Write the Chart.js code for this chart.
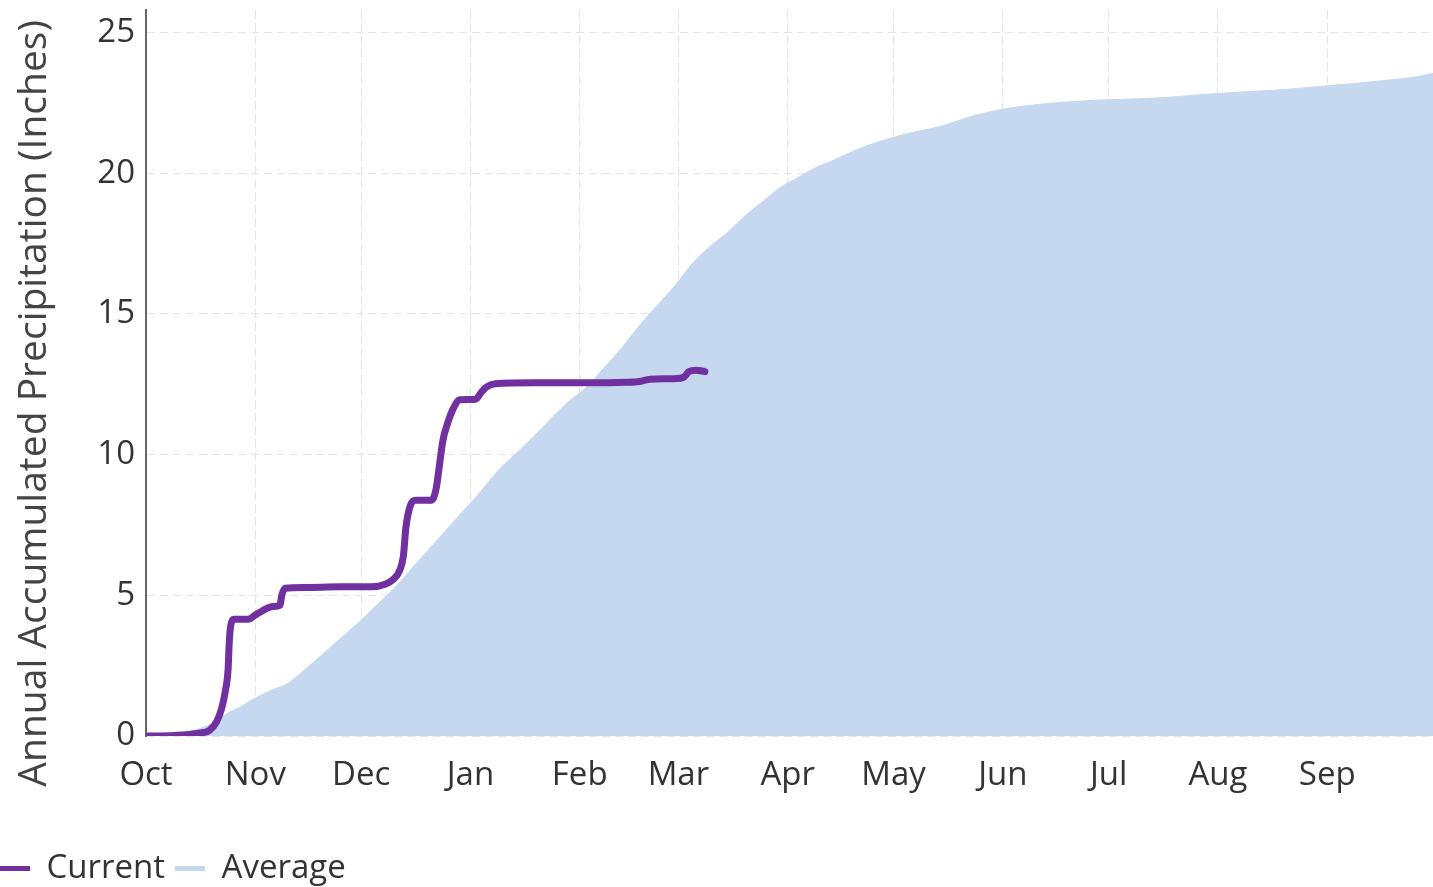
<!DOCTYPE html>
<html>
<head>
<meta charset="utf-8">
<script src="https://cdn.jsdelivr.net/npm/chart.js@4/dist/chart.umd.min.js"></script>
<style>
  body { margin: 0; background: #fff; }
</style>
</head>
<body>
<canvas id="grafico" width="1433" height="887"></canvas>
<script>
// eixo x: dias desde 1 de outubro (ano hidrológico)
var mesesInicio = [0, 31, 61, 92, 123, 151, 182, 212, 243, 273, 304, 335];
var mesesNomes = ['Oct', 'Nov', 'Dec', 'Jan', 'Feb', 'Mar', 'Apr', 'May', 'Jun', 'Jul', 'Aug', 'Sep'];
var yTicks = [0, 5, 10, 15, 20, 25];

// precipitação acumulada do ano atual
var atualDias = [0, 8, 15, 18, 20, 21.5, 22.5, 23.3, 23.6, 24, 25, 29, 31, 33, 36, 38, 38.5, 39.5, 45, 55, 64, 68, 70, 72, 73, 73.7, 75, 76.5, 81, 82.3, 83.2, 84.2, 85.5, 87, 89, 93.5, 95, 96.5, 99, 110, 125, 136, 140, 143, 150, 152.5, 154, 156, 158.5];
var atualValores = [0, 0.02, 0.1, 0.2, 0.5, 1.0, 1.6, 2.4, 3.3, 3.9, 4.15, 4.15, 4.3, 4.45, 4.6, 4.65, 5.0, 5.25, 5.28, 5.3, 5.3, 5.4, 5.55, 5.9, 6.4, 7.4, 8.2, 8.38, 8.38, 8.8, 9.6, 10.5, 11.1, 11.6, 11.95, 11.97, 12.2, 12.4, 12.52, 12.55, 12.55, 12.57, 12.6, 12.68, 12.7, 12.75, 12.95, 13.0, 12.95];

// média histórica
var mediaDias = [0, 5, 10, 15, 18, 20, 23, 27, 31, 36, 40, 45, 50, 55, 60, 65, 70, 75, 80, 85, 90, 95, 100, 105, 110, 115, 120, 125, 130, 135, 140, 145, 150, 155, 160, 165, 170, 175, 180, 185, 190, 195, 200, 205, 210, 215, 220, 225, 230, 235, 240, 245, 250, 255, 260, 270, 280, 290, 300, 310, 320, 330, 340, 350, 360, 365];
var mediaValores = [0, 0.05, 0.12, 0.25, 0.4, 0.55, 0.8, 1.05, 1.35, 1.65, 1.85, 2.35, 2.9, 3.45, 4.0, 4.6, 5.2, 5.9, 6.6, 7.3, 8.0, 8.7, 9.45, 10.05, 10.65, 11.3, 11.9, 12.4, 13.1, 13.8, 14.6, 15.3, 16.0, 16.8, 17.4, 17.9, 18.5, 19.0, 19.5, 19.85, 20.2, 20.46, 20.75, 21.0, 21.2, 21.38, 21.52, 21.65, 21.85, 22.05, 22.2, 22.32, 22.4, 22.47, 22.52, 22.6, 22.64, 22.7, 22.8, 22.88, 22.95, 23.05, 23.16, 23.28, 23.42, 23.55];

function pontos(xs, ys) {
    return xs.map(function (x, i) { return { x: x, y: ys[i] }; });
}

var fonte = 'Open Sans';
var corMedia = '#c6d8ef';
var corAtual = '#7030a0';

var ctx = document.getElementById('grafico').getContext('2d');

var grafico = new Chart(ctx, {
    type: 'line',
    data: {
        datasets: [{
            label: 'Current',
            data: pontos(atualDias, atualValores),
            borderColor: corAtual,
            backgroundColor: corAtual,
            borderWidth: 7,
            borderJoinStyle: 'round',
            borderCapStyle: 'round',
            cubicInterpolationMode: 'monotone',
            pointRadius: 0,
            fill: false
        }, {
            label: 'Average',
            data: pontos(mediaDias, mediaValores),
            borderColor: corMedia,
            backgroundColor: corMedia,
            borderWidth: 1,
            cubicInterpolationMode: 'monotone',
            pointRadius: 0,
            fill: 'origin'
        }]
    },
    options: {
        responsive: false,
        animation: false,
        layout: {
            padding: { left: -10, right: 0, top: 10, bottom: -8 }
        },
        plugins: {
            tooltip: { enabled: false },
            legend: {
                position: 'bottom',
                align: 'start',
                labels: {
                    usePointStyle: true,
                    pointStyleWidth: 30,
                    color: '#333',
                    font: { family: fonte, size: 33 },
                    generateLabels: function (chart) {
                        var itens = Chart.defaults.plugins.legend.labels.generateLabels(chart);
                        itens.forEach(function (item) {
                            item.pointStyle = 'line';
                            item.lineWidth = 5;
                        });
                        return itens;
                    }
                }
            }
        },
        scales: {
            x: {
                type: 'linear',
                min: 0,
                max: 365,
                afterBuildTicks: function (scale) {
                    scale.ticks = mesesInicio.map(function (v) { return { value: v }; });
                },
                afterFit: function (scale) {
                    scale.height = 106;
                    scale.paddingRight = 0;
                },
                ticks: {
                    autoSkip: false,
                    maxRotation: 0,
                    padding: 20,
                    color: '#333',
                    font: { family: fonte, size: 33 },
                    callback: function (value) {
                        return mesesNomes[mesesInicio.indexOf(value)];
                    }
                },
                grid: {
                    color: '#e4e4e4',
                    lineWidth: 1,
                    drawTicks: false
                },
                border: { display: false, dash: [9, 4] }
            },
            y: {
                min: 0,
                max: 25.8,
                afterBuildTicks: function (scale) {
                    scale.ticks = yTicks.map(function (v) { return { value: v }; });
                },
                afterFit: function (scale) {
                    scale.width = 156;
                    scale.paddingTop = 0;
                    scale.paddingBottom = 0;
                },
                ticks: {
                    padding: 11,
                    color: '#333',
                    font: { family: fonte, size: 33 }
                },
                grid: {
                    color: '#e4e4e4',
                    lineWidth: 1,
                    drawTicks: false
                },
                border: { display: true, color: '#666', width: 2, dash: [8, 5] },
                title: {
                    display: true,
                    text: 'Annual Accumulated Precipitation (Inches)      ',
                    color: '#444',
                    font: { family: fonte, size: 39 },
                    padding: { top: 21, bottom: 0 }
                }
            }
        }
    }
});
</script>
</body>
</html>
